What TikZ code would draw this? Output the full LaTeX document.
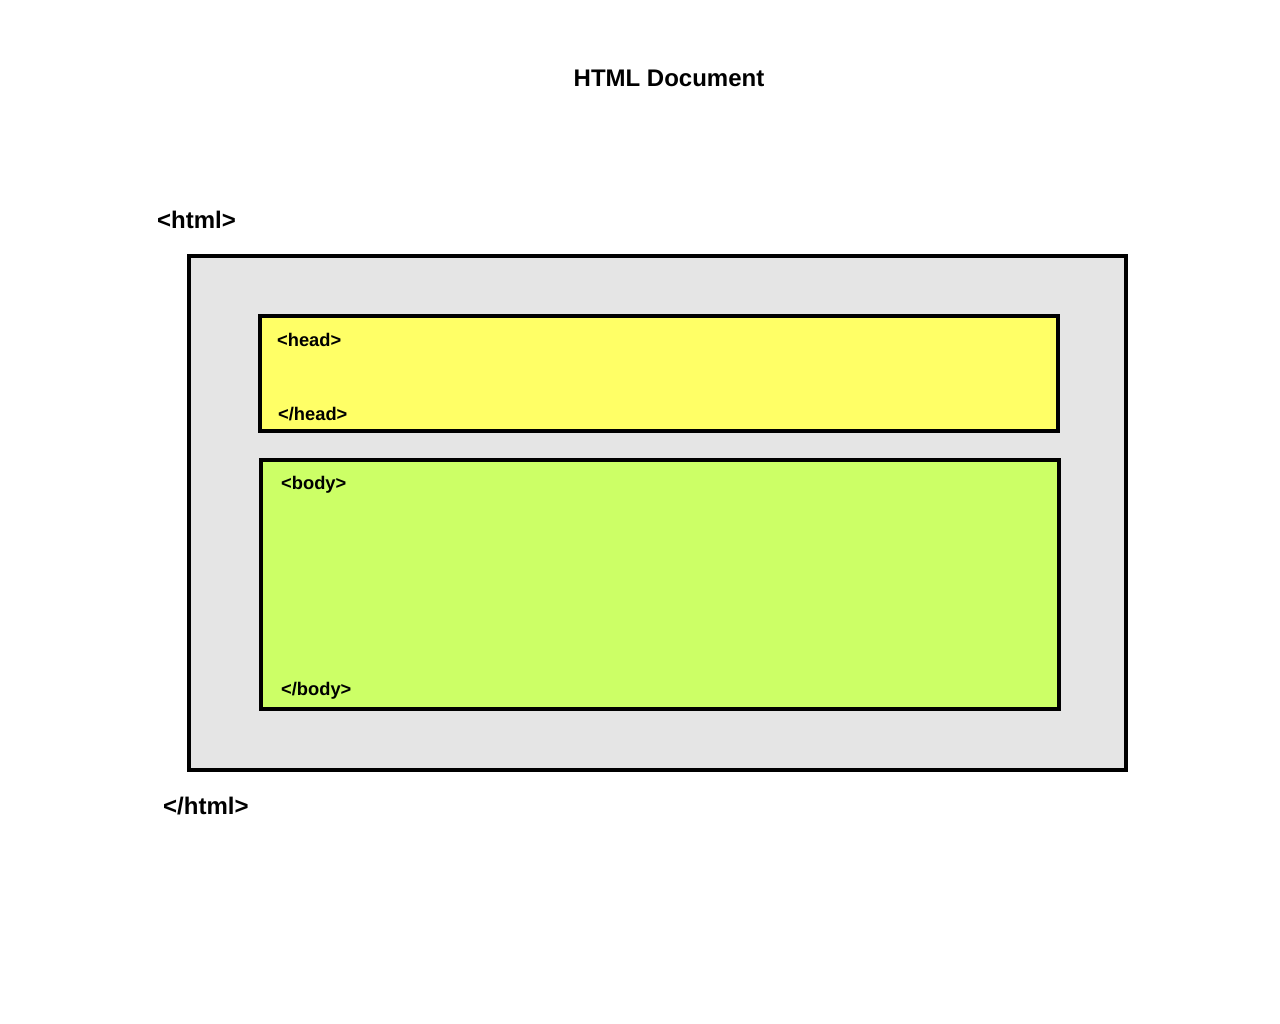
\documentclass[tikz,border=0pt]{standalone}
\usepackage{fontspec}
\setmainfont{Liberation Sans}
\definecolor{htmlgray}{HTML}{E5E5E5}
\definecolor{headyellow}{HTML}{FFFF66}
\definecolor{bodygreen}{HTML}{CCFF66}
\begin{document}
\begin{tikzpicture}[x=1pt,y=-1pt,
  region/.style={draw=black,line width=3.5pt},
  bigtag/.style={anchor=base west,inner sep=0pt,font=\fontsize{24}{28}\selectfont\bfseries},
  smalltag/.style={anchor=base west,inner sep=0pt,font=\fontsize{18.3}{22}\selectfont\bfseries}]
  \useasboundingbox (0,0) rectangle (1280,1024);
  % title
  \node[anchor=base,inner sep=0pt,font=\fontsize{24}{28}\selectfont\bfseries] (title) at (669,87) {HTML Document};
  % html element
  \node[bigtag] (htmlopen) at (157,229) {<html>};
  \draw[region,fill=htmlgray] (189,256) rectangle (1126,770);
  \node[bigtag] (htmlclose) at (163,814) {</html>};
  % head element
  \draw[region,fill=headyellow] (260,316) rectangle (1058,431);
  \node[smalltag] (headopen) at (277,346) {<head>};
  \node[smalltag] (headclose) at (278,420) {</head>};
  % body element
  \draw[region,fill=bodygreen] (261,460) rectangle (1059,709);
  \node[smalltag] (bodyopen) at (281,489) {<body>};
  \node[smalltag] (bodyclose) at (281,695) {</body>};
\end{tikzpicture}
\end{document}
